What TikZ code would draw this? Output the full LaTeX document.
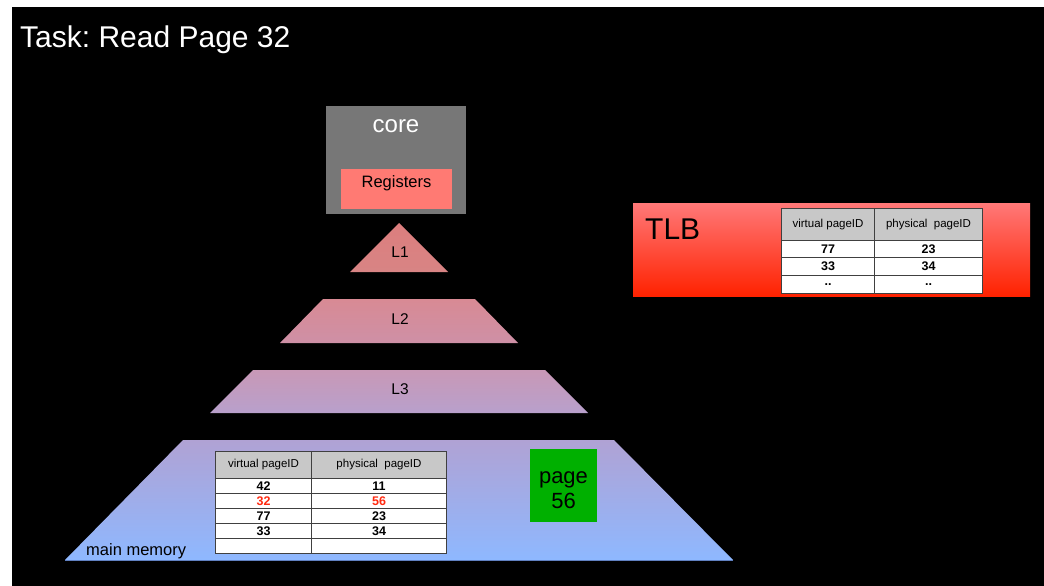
\documentclass[tikz,border=0pt]{standalone}
\usepackage{fontspec}
\setmainfont{Liberation Sans}
\frenchspacing
\definecolor{coregray}{HTML}{777777}
\definecolor{regred}{HTML}{FF7A73}
\definecolor{lonetop}{HTML}{DC7E7E}
\definecolor{lonebot}{HTML}{D88484}
\definecolor{ltwotop}{HTML}{D88A94}
\definecolor{ltwobot}{HTML}{CE90A6}
\definecolor{lthreetop}{HTML}{C898B6}
\definecolor{lthreebot}{HTML}{B8A0CC}
\definecolor{memtop}{HTML}{B0A2D4}
\definecolor{membot}{HTML}{8EB8FF}
\definecolor{memline}{HTML}{6080C0}
\definecolor{tlbtop}{HTML}{FF7878}
\definecolor{tlbbot}{HTML}{FF2200}
\definecolor{pagegreen}{HTML}{00B000}
\definecolor{hitred}{HTML}{FF2A10}
\definecolor{hdrgray}{HTML}{C8C8C8}
\definecolor{gridline}{HTML}{404040}
\begin{document}
\begin{tikzpicture}[x=1pt,y=-1pt,
  cell/.style={draw=gridline, line width=1pt, inner sep=0pt, anchor=north west, fill=white,
    font=\fontsize{12.5}{13}\selectfont\bfseries},
  hcell/.style={cell, fill=hdrgray, font=\fontsize{11.5}{12}\selectfont},
  lbl/.style={inner sep=0pt, text=black},
]
\useasboundingbox (0,0) rectangle (1044,586);
\fill[white] (0,0) rectangle (1044,586);
\fill[black] (12,7) rectangle (1044,586);

% title
\node[lbl, text=white, anchor=base west, font=\fontsize{30}{30}\selectfont] (title) at (20,48) {Task: Read Page 32};

% core
\node[fill=coregray, minimum width=140, minimum height=108, anchor=north west, inner sep=0pt] (core) at (326,106) {};
\node[lbl, text=white, anchor=base, font=\fontsize{24}{24}\selectfont] (coretxt) at (396,132) {core};
\node[fill=regred, minimum width=111, minimum height=40, anchor=north west, inner sep=0pt] (reg) at (341,169) {};
\node[lbl, anchor=base, font=\fontsize{16.5}{17}\selectfont] (regtxt) at (396.5,187) {Registers};

% L1
\shade[top color=lonetop, bottom color=lonebot] (399,223) -- (448,272) -- (350,272) -- cycle;
\node[lbl, anchor=base, font=\fontsize{15.5}{16}\selectfont] (l1) at (400,257) {L1};
% L2
\shade[top color=ltwotop, bottom color=ltwobot] (323,299) -- (475,299) -- (518,343) -- (280,343) -- cycle;
\node[lbl, anchor=base, font=\fontsize{15.5}{16}\selectfont] (l2) at (400,324) {L2};
% L3
\shade[top color=lthreetop, bottom color=lthreebot] (253,370) -- (545,370) -- (588,413) -- (210,413) -- cycle;
\node[lbl, anchor=base, font=\fontsize{15.5}{16}\selectfont] (l3) at (400,394) {L3};
% main memory
\shade[top color=memtop, bottom color=membot] (183,440) -- (614,440) -- (733,560) -- (65,560) -- cycle;
\draw[memline, line width=1pt] (65,560) -- (733,560);
\node[lbl, anchor=base west, font=\fontsize{16.5}{17}\selectfont] (mm) at (86,555) {main memory};

% page 56
\node[fill=pagegreen, minimum width=67, minimum height=73, anchor=north west, inner sep=0pt] (page) at (530,449) {};
\node[lbl, anchor=base, font=\fontsize{22}{22}\selectfont] (pagetxt) at (563.5,483) {page};
\node[lbl, anchor=base, font=\fontsize{22}{22}\selectfont] (pagenum) at (563.5,508) {56};

% memory page table
\node[hcell, minimum width=96, minimum height=27] (mh1) at (215,451) {virtual pageID};
\node[hcell, minimum width=135, minimum height=27] (mh2) at (311,451) {physical\ \ pageID};
\node[cell, minimum width=96, minimum height=15] (m11) at (215,478) {42};
\node[cell, minimum width=135, minimum height=15] (m12) at (311,478) {11};
\node[cell, minimum width=96, minimum height=15, text=hitred] (m21) at (215,493) {32};
\node[cell, minimum width=135, minimum height=15, text=hitred] (m22) at (311,493) {56};
\node[cell, minimum width=96, minimum height=15] (m31) at (215,508) {77};
\node[cell, minimum width=135, minimum height=15] (m32) at (311,508) {23};
\node[cell, minimum width=96, minimum height=15] (m41) at (215,523) {33};
\node[cell, minimum width=135, minimum height=15] (m42) at (311,523) {34};
\node[cell, minimum width=96, minimum height=15] (m51) at (215,538) {};
\node[cell, minimum width=135, minimum height=15] (m52) at (311,538) {};

% TLB
\shade[top color=tlbtop, bottom color=tlbbot] (633,203) rectangle (1030,296);
\node[lbl, anchor=base west, font=\fontsize{30}{30}\selectfont] (tlb) at (645,239) {TLB};
\node[hcell, minimum width=93, minimum height=32] (th1) at (781,208) {virtual pageID};
\node[hcell, minimum width=108, minimum height=32] (th2) at (874,208) {physical\ \ pageID};
\node[cell, minimum width=93, minimum height=17] (t11) at (781,240) {77};
\node[cell, minimum width=108, minimum height=17] (t12) at (874,240) {23};
\node[cell, minimum width=93, minimum height=18] (t21) at (781,257) {33};
\node[cell, minimum width=108, minimum height=18] (t22) at (874,257) {34};
\node[cell, minimum width=93, minimum height=18] (t31) at (781,275) {..};
\node[cell, minimum width=108, minimum height=18] (t32) at (874,275) {..};
\end{tikzpicture}
\end{document}
